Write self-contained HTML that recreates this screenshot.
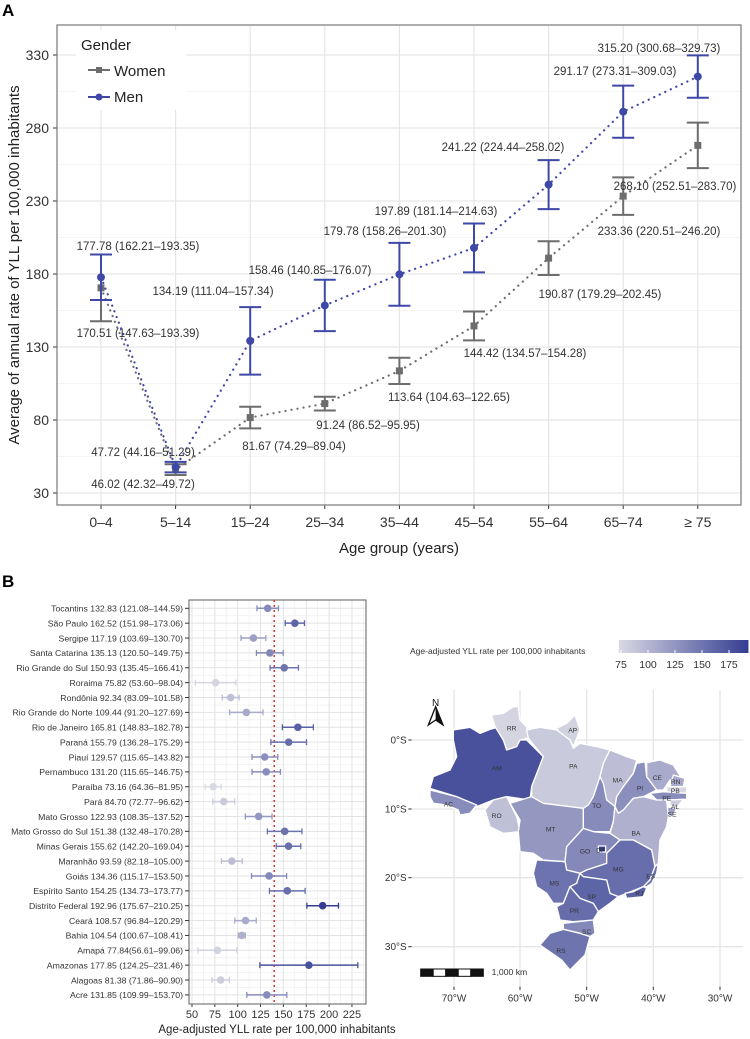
<!DOCTYPE html>
<html><head><meta charset="utf-8">
<style>
html,body{margin:0;padding:0;background:#fff;}
svg{display:block;font-family:"Liberation Sans",sans-serif;}
</style></head>
<body>
<svg id="fig" width="750" height="1039" viewBox="0 0 750 1039" xmlns="http://www.w3.org/2000/svg">
<text x="2" y="16" font-size="17" font-weight="bold">A</text>
<text x="2" y="587" font-size="17" font-weight="bold">B</text>
<g id="pa"></g>
<g id="pb"></g>
<g id="map"></g>
</svg>
<script>
const ageGroups=["0–4","5–14","15–24","25–34","35–44","45–54","55–64","65–74","≥ 75"];
const menVal=[177.78,47.72,134.19,158.46,179.78,197.89,241.22,291.17,315.20];
const menLo=[162.21,44.16,111.04,140.85,158.26,181.14,224.44,273.31,300.68];
const menHi=[193.35,51.29,157.34,176.07,201.30,214.63,258.02,309.03,329.73];
const womenVal=[170.51,46.02,81.67,91.24,113.64,144.42,190.87,233.36,268.10];
const womenLo=[147.63,42.32,74.29,86.52,104.63,134.57,179.29,220.51,252.51];
const womenHi=[193.39,49.72,89.04,95.95,122.65,154.28,202.45,246.20,283.70];
const yTicksA=[30,80,130,180,230,280,330];

const states=["Tocantins","São Paulo","Sergipe","Santa Catarina","Rio Grande do Sul","Roraima","Rondônia","Rio Grande do Norte","Rio de Janeiro","Paraná","Piauí","Pernambuco","Paraíba","Pará","Mato Grosso","Mato Grosso do Sul","Minas Gerais","Maranhão","Goiás","Espírito Santo","Distrito Federal","Ceará","Bahia","Amapá","Amazonas","Alagoas","Acre"];
const stVal=[132.83,162.52,117.19,135.13,150.93,75.82,92.34,109.44,165.81,155.79,129.57,131.20,73.16,84.70,122.93,151.38,155.62,93.59,134.36,154.25,192.96,108.57,104.54,77.84,177.85,81.38,131.85];
const stLo=[121.08,151.98,103.69,120.50,135.45,53.60,83.09,91.20,148.83,136.28,115.65,115.65,64.36,72.77,108.35,132.48,142.20,82.18,115.17,134.73,175.67,96.84,100.67,56.61,124.25,71.86,109.99];
const stHi=[144.59,173.06,130.70,149.75,166.41,98.04,101.58,127.69,182.78,175.29,143.82,146.75,81.95,96.62,137.52,170.28,169.04,105.00,153.50,173.77,210.25,120.29,108.41,99.06,231.46,90.90,153.70];
const xTicksB=[50,75,100,125,150,175,200,225];
const meanB=[140];

const NS="http://www.w3.org/2000/svg";
function el(p,t,a,txt){const e=document.createElementNS(NS,t);for(const k in a)e.setAttribute(k,a[k]);if(txt!==undefined)e.textContent=txt;p.appendChild(e);return e;}
function fmt(v){return v.toFixed(2);}

/* ---------- Panel A ---------- */
const pa=document.getElementById('pa');
const AL=57,AR=741,AT=25,AB=505;
const ax=i=>101+i*74.6;
const ay=v=>493-(v-30)*1.46;
let r=el(pa,'rect',{x:AL,y:AT,width:AR-AL,height:AB-AT,fill:'#fff'});

for(let v=55;v<=355;v+=50){if(ay(v)>AT)el(pa,'line',{x1:AL,x2:AR,y1:ay(v),y2:ay(v),stroke:'#f2f2f2','stroke-width':0.8});}
yTicksA.forEach(v=>{let g=el(pa,'line',{x1:AL,x2:AR,y1:ay(v),y2:ay(v),stroke:'#e6e6e6','stroke-width':1.2});
let t=el(pa,'text',{x:49,y:ay(v)+5,'text-anchor':'end','font-size':14,fill:'#333'},v);
el(pa,'line',{x1:53,x2:57,y1:ay(v),y2:ay(v),stroke:'#333'});});
ageGroups.forEach((a,i)=>{el(pa,'line',{x1:ax(i),x2:ax(i),y1:AT,y2:AB,stroke:'#e6e6e6','stroke-width':1.2});
el(pa,'line',{x1:ax(i),x2:ax(i),y1:AB,y2:AB+4,stroke:'#333'});
let t=el(pa,'text',{x:ax(i),y:AB+22,'text-anchor':'middle','font-size':14,fill:'#333'},a);});
r=el(pa,'rect',{x:AL,y:AT,width:AR-AL,height:AB-AT,fill:'none',stroke:'#777','stroke-width':1.2});

let t=el(pa,'text',{x:399,y:553,'text-anchor':'middle','font-size':15,fill:'#222'},'Age group (years)');
t=el(pa,'text',{x:0,y:0,transform:'translate(19,265) rotate(-90)','text-anchor':'middle','font-size':15,fill:'#222'},'Average of annual rate of YLL per 100,000 inhabitants');

const menLabelPos=[[138,246],[143,452],[213,291],[310,270],[385,231],[436,211],[503,147],[615,71],[659,48]];
const womenLabelPos=[[138,333],[143,484],[294,446],[368,425],[449,397],[525,353],[600,294],[659,231],[675,186]];
function series(vals,lo,hi,col,name,pos,shape){
  let pts=vals.map((v,i)=>ax(i)+','+ay(v)).join(' ');
  let l=el(pa,'polyline',{points:pts,fill:'none',stroke:col,'stroke-width':2.2,'stroke-dasharray':'0.1 6','stroke-linecap':'round'});
  
  vals.forEach((v,i)=>{
    let g=el(pa,'g',{});
    el(g,'line',{x1:ax(i),x2:ax(i),y1:ay(lo[i]),y2:ay(hi[i]),stroke:col,'stroke-width':2});
    el(g,'line',{x1:ax(i)-11,x2:ax(i)+11,y1:ay(lo[i]),y2:ay(lo[i]),stroke:col,'stroke-width':2});
    el(g,'line',{x1:ax(i)-11,x2:ax(i)+11,y1:ay(hi[i]),y2:ay(hi[i]),stroke:col,'stroke-width':2});
    let p;
    if(shape==='sq')p=el(pa,'rect',{x:ax(i)-3.5,y:ay(v)-3.5,width:7,height:7,fill:col});
    else p=el(pa,'circle',{cx:ax(i),cy:ay(v),r:4,fill:col});
    
    let tx=el(pa,'text',{x:pos[i][0],y:pos[i][1]+4,'text-anchor':'middle','font-size':11.5,fill:'#333'},fmt(v)+' ('+fmt(lo[i])+'–'+fmt(hi[i])+')');
    
  });
}
series(womenVal,womenLo,womenHi,'#6d6d6d','women',womenLabelPos,'sq');
series(menVal,menLo,menHi,'#3f48a6','men',menLabelPos,'c');
let lg=el(pa,'g',{});
el(lg,'rect',{x:76,y:30,width:110,height:80,fill:'#fff'});
el(lg,'text',{x:81,y:50,'font-size':15,fill:'#222'},'Gender');
let le=el(lg,'g',{});
el(le,'line',{x1:88,x2:110,y1:70,y2:70,stroke:'#6d6d6d','stroke-width':2});el(le,'rect',{x:96,y:67,width:6,height:6,fill:'#6d6d6d'});
el(le,'text',{x:114,y:76,'font-size':15,fill:'#222'},'Women');
le=el(lg,'g',{});
el(le,'line',{x1:88,x2:110,y1:97,y2:97,stroke:'#3f48a6','stroke-width':2});el(le,'circle',{cx:99,cy:97,r:3.5,fill:'#3f48a6'});
el(le,'text',{x:114,y:102,'font-size':15,fill:'#222'},'Men');

/* ---------- Colour scale ---------- */
function col(v){const a=[217,217,227],b=[52,61,146];let f=Math.max(0,Math.min(1,(v-73)/(193-73)));
return 'rgb('+a.map((c,k)=>Math.round(c+(b[k]-c)*f)).join(',')+')';}

/* ---------- Panel B forest ---------- */
const pb=document.getElementById('pb');
const BL=189,BR=366,BT=600,BB=1004;
const bx=v=>192+(v-50)*0.914;
const by=i=>608.3+i*14.87;
el(pb,'rect',{x:BL,y:BT,width:BR-BL,height:BB-BT,fill:'#fff'});
for(let v=37.5;v<=237.5;v+=25){if(bx(v)>BL&&bx(v)<BR)el(pb,'line',{x1:bx(v),x2:bx(v),y1:BT,y2:BB,stroke:'#f0f0f0','stroke-width':0.8});}
states.forEach((s,i)=>{if(i>0)el(pb,'line',{x1:BL,x2:BR,y1:by(i)-7.4,y2:by(i)-7.4,stroke:'#f0f0f0','stroke-width':0.8});el(pb,'line',{x1:BL,x2:BR,y1:by(i),y2:by(i),stroke:'#e3e3e3','stroke-width':1});});
xTicksB.forEach(v=>{el(pb,'line',{x1:bx(v),x2:bx(v),y1:BT,y2:BB,stroke:'#e3e3e3','stroke-width':1});
el(pb,'line',{x1:bx(v),x2:bx(v),y1:BB,y2:BB+3,stroke:'#333'});
let tt=el(pb,'text',{x:bx(v),y:BB+14,'text-anchor':'middle','font-size':11,fill:'#333'},v);});
el(pb,'rect',{x:BL,y:BT,width:BR-BL,height:BB-BT,fill:'none',stroke:'#777','stroke-width':1.2});
let ml=el(pb,'line',{x1:bx(meanB[0]),x2:bx(meanB[0]),y1:BT,y2:BB,stroke:'#e03030','stroke-width':1.5,'stroke-dasharray':'2 3'});

states.forEach((s,i)=>{
  let c=col(stVal[i]);
  let g=el(pb,'g',{});
  el(g,'line',{x1:bx(stLo[i]),x2:bx(stHi[i]),y1:by(i),y2:by(i),stroke:c,'stroke-width':1.5});
  el(g,'line',{x1:bx(stLo[i]),x2:bx(stLo[i]),y1:by(i)-3,y2:by(i)+3,stroke:c,'stroke-width':1.3});
  el(g,'line',{x1:bx(stHi[i]),x2:bx(stHi[i]),y1:by(i)-3,y2:by(i)+3,stroke:c,'stroke-width':1.3});
  let p=el(g,'circle',{cx:bx(stVal[i]),cy:by(i),r:3.8,fill:c});
  el(pb,'line',{x1:185,x2:189,y1:by(i),y2:by(i),stroke:'#333'});
  let sep=(s==='Amapá')?'(':' (';
  let tx=el(pb,'text',{x:183,y:by(i)+3.3,'text-anchor':'end','font-size':8.7,fill:'#333'},s+' '+fmt(stVal[i])+sep+fmt(stLo[i])+'–'+fmt(stHi[i])+')');
  
});
t=el(pb,'text',{x:277,y:1033,'text-anchor':'middle','font-size':11.5,fill:'#222'},'Age-adjusted YLL rate per 100,000 inhabitants');

/* ---------- Map ---------- */
const mp=document.getElementById('map');
let cb=el(mp,'g',{});
const defs=el(mp,'defs',{});const lgr=el(defs,'linearGradient',{id:'cbg',x1:0,x2:1,y1:0,y2:0});
el(lgr,'stop',{offset:'0%','stop-color':col(73)});el(lgr,'stop',{offset:'100%','stop-color':col(193)});
const cx=v=>621+(v-75)*1.08;
el(cb,'rect',{x:cx(73),y:640,width:cx(193)-cx(73),height:13,fill:'url(#cbg)'});
[75,100,125,150,175].forEach(v=>{el(cb,'line',{x1:cx(v),x2:cx(v),y1:650,y2:653,stroke:'#fff'});el(cb,'text',{x:cx(v),y:668,'text-anchor':'middle','font-size':10.5,fill:'#333'},v);});
t=el(mp,'text',{x:410,y:654,'font-size':8.5,fill:'#333'},'Age-adjusted YLL rate  per 100,000 inhabitants');
const G=el(mp,'g',{transform:'translate(380,640) scale(0.33333)'});
[222,420,620,820,1020].forEach((x,k)=>{el(G,'line',{x1:x,x2:x,y1:150,y2:1040,stroke:'#e5e5e5','stroke-width':4});
el(G,'line',{x1:x,x2:x,y1:1040,y2:1050,stroke:'#333','stroke-width':3});
el(G,'text',{x:x,y:1085,'text-anchor':'middle','font-size':30,fill:'#333'},['70°W','60°W','50°W','40°W','30°W'][k]);});
[300,507,713,920].forEach((y,k)=>{el(G,'line',{x1:95,x2:1090,y1:y,y2:y,stroke:'#e5e5e5','stroke-width':4});
el(G,'line',{x1:85,x2:95,y1:y,y2:y,stroke:'#333','stroke-width':3});
el(G,'text',{x:80,y:y+10,'text-anchor':'end','font-size':30,fill:'#333'},['0°S','10°S','20°S','30°S'][k]);});
const shapes={
AM:[[220,270],[270,262],[300,280],[330,268],[360,260],[370,300],[410,300],[440,300],[490,350],[455,440],[450,480],[380,470],[340,480],[290,500],[230,470],[150,445],[160,410],[210,390],[230,350],[220,300]],
RR:[[335,225],[370,220],[400,200],[415,200],[420,240],[440,260],[445,295],[420,300],[410,320],[380,330],[370,300],[345,260]],
AP:[[530,265],[560,250],[585,225],[600,270],[580,320],[570,300],[540,280]],
PA:[[445,295],[440,270],[480,262],[530,270],[570,300],[580,325],[600,310],[650,320],[690,330],[670,370],[660,410],[640,470],[625,495],[610,505],[550,500],[490,490],[455,470],[455,440],[490,350]],
AC:[[150,450],[230,470],[290,495],[270,520],[240,525],[235,510],[200,495],[160,490],[150,470]],
RO:[[340,480],[380,470],[390,490],[410,530],[420,575],[370,580],[330,560],[315,510]],
MT:[[390,490],[455,470],[490,490],[610,505],[610,565],[560,620],[555,665],[490,660],[460,640],[420,635],[415,575],[420,540]],
MA:[[690,330],[740,350],[770,360],[760,400],[730,440],[710,470],[705,500],[680,480],[660,410],[670,370]],
PI:[[770,370],[795,365],[800,410],[830,450],[810,460],[790,470],[760,475],[730,510],[715,520],[705,500],[710,470],[730,440],[760,400]],
CE:[[800,368],[840,360],[880,375],[905,415],[870,420],[850,450],[830,450],[800,410]],
RN:[[880,405],[915,415],[910,440],[870,440]],
PB:[[860,440],[920,440],[920,460],[860,458]],
PE:[[810,460],[850,455],[920,460],[920,478],[860,480],[830,480]],
AL:[[870,480],[910,478],[890,505],[870,495]],
SE:[[860,500],[890,505],[880,525],[865,530]],
TO:[[660,410],[670,430],[680,480],[705,500],[700,545],[690,575],[640,575],[610,565],[610,505],[625,495],[640,470]],
BA:[[705,500],[715,520],[730,510],[760,475],[790,470],[830,480],[860,480],[865,530],[860,560],[840,600],[835,670],[825,680],[815,630],[760,600],[720,600],[690,580],[700,545]],
GO:[[610,565],[640,575],[690,580],[720,600],[680,640],[680,670],[620,690],[600,700],[560,690],[555,665],[560,620]],
MG:[[720,600],[760,600],[815,630],[825,680],[810,720],[790,740],[740,760],[715,770],[690,760],[680,720],[610,710],[600,700],[620,690],[680,670],[680,640]],
ES:[[825,680],[835,670],[830,700],[815,730],[800,740],[790,740],[810,720]],
RJ:[[790,740],[800,745],[790,770],[740,775],[735,760],[760,755]],
MS:[[470,660],[555,665],[560,690],[600,700],[590,730],[570,740],[550,790],[520,790],[500,760],[470,740],[460,700]],
SP:[[600,700],[610,710],[680,720],[690,760],[715,770],[690,790],[655,815],[640,790],[600,775],[570,740],[590,730]],
PR:[[570,740],[600,775],[640,790],[655,815],[640,840],[580,845],[540,840],[530,800],[550,790]],
SC:[[550,850],[640,840],[645,880],[630,890],[600,880],[550,868]],
RS:[[550,868],[600,880],[630,890],[615,945],[570,990],[545,960],[480,915],[510,880]],
DF:[[655,618],[677,618],[677,636],[655,636]]};
const abbrVal={TO:132.83,SP:162.52,SE:117.19,SC:135.13,RS:150.93,RR:75.82,RO:92.34,RN:109.44,RJ:165.81,PR:155.79,PI:129.57,PE:131.20,PB:73.16,PA:84.70,MT:122.93,MS:151.38,MG:155.62,MA:93.59,GO:134.36,ES:154.25,DF:192.96,CE:108.57,BA:104.54,AP:77.84,AM:177.85,AL:81.38,AC:131.85};
const labelAt={AM:[350,385],RR:[395,265],AP:[578,270],PA:[580,378],AC:[205,492],RO:[350,527],MT:[512,567],MA:[713,420],PI:[780,445],CE:[832,413],RN:[887,425],PB:[886,452],PE:[860,475],AL:[885,500],SE:[876,522],TO:[650,497],BA:[768,580],GO:[615,633],DF:[662,630],MG:[715,687],ES:[812,708],RJ:[778,760],MS:[523,730],SP:[635,770],PR:[583,812],SC:[620,875],RS:[543,932]};
for(const k in shapes){
  let p=el(G,'polygon',{points:shapes[k].map(q=>q.join(',')).join(' '),fill:col(abbrVal[k]),stroke:'#fff','stroke-width':4,'stroke-linejoin':'round'});
  
}
for(const k in labelAt){el(G,'text',{x:labelAt[k][0],y:labelAt[k][1]+7,'text-anchor':'middle','font-size':20,fill:'#333'},k);}
let na=el(G,'g',{});
el(na,'text',{x:167,y:198,'text-anchor':'middle','font-size':30,fill:'#111'},'N');
el(na,'polygon',{points:'167,200 145,255 167,240 189,255',fill:'none',stroke:'#111','stroke-width':4});
el(na,'polygon',{points:'167,200 167,240 189,255',fill:'#111'});
let sb=el(G,'g',{});
for(let i=0;i<5;i++)el(sb,'rect',{x:122+i*37.6,y:987,width:37.6,height:22,fill:i%2?'#fff':'#111',stroke:'#111','stroke-width':3});
el(sb,'text',{x:335,y:1005,'font-size':26,fill:'#333'},'1,000 km');
</script>
</body></html>
